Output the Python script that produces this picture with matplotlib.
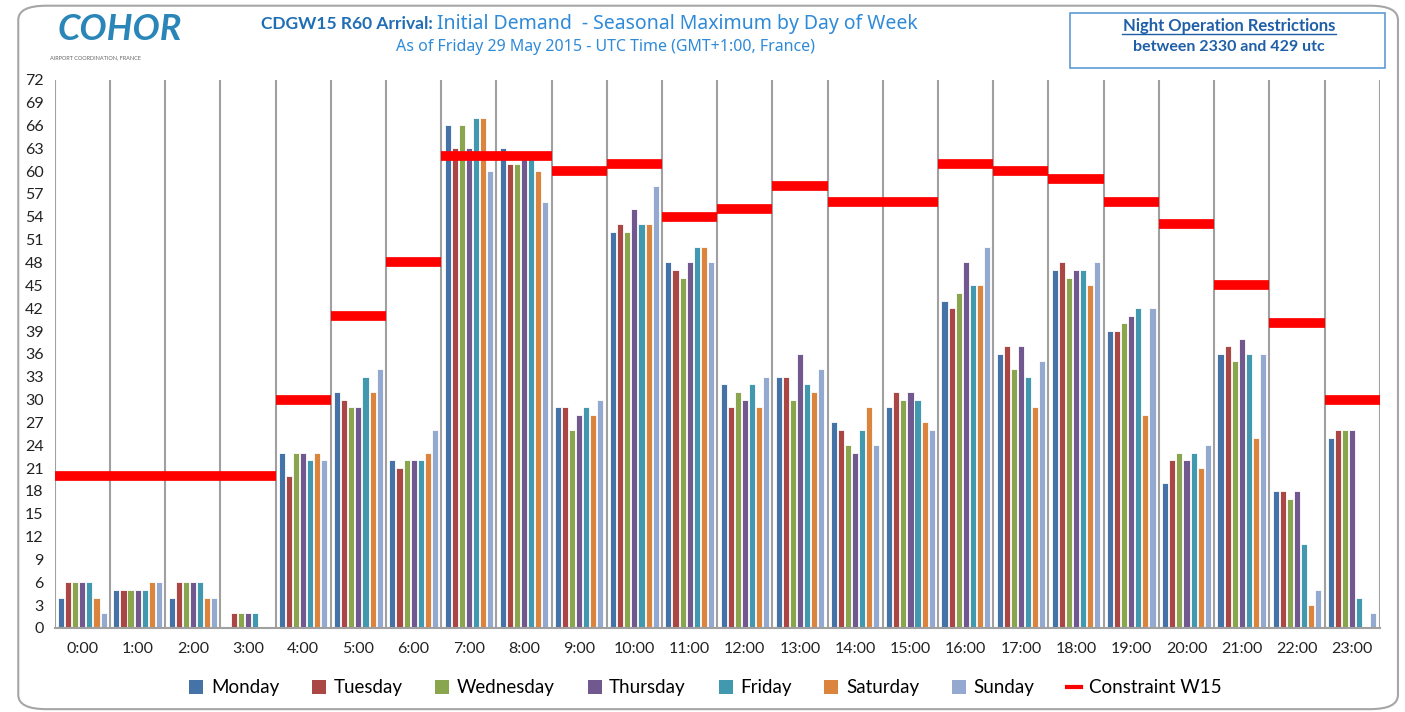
import matplotlib
matplotlib.use("Agg")
import matplotlib.pyplot as plt
from matplotlib.patches import FancyBboxPatch, Patch, Rectangle
from matplotlib.lines import Line2D
import numpy as np

plt.rcParams['font.family'] = ['Lato', 'DejaVu Sans']

hours = ["%d:00" % h for h in range(24)]
days = ["Monday", "Tuesday", "Wednesday", "Thursday", "Friday", "Saturday", "Sunday"]
day_colors = ["#4572A7", "#AA4643", "#89A54E", "#71588F", "#4198AF", "#DB843D", "#93A9CF"]

monday    = [4, 5, 4, 0, 23, 31, 22, 66, 63, 29, 52, 48, 32, 33, 27, 29, 43, 36, 47, 39, 19, 36, 18, 25]
tuesday   = [6, 5, 6, 2, 20, 30, 21, 63, 61, 29, 53, 47, 29, 33, 26, 31, 42, 37, 48, 39, 22, 37, 18, 26]
wednesday = [6, 5, 6, 2, 23, 29, 22, 66, 61, 26, 52, 46, 31, 30, 24, 30, 44, 34, 46, 40, 23, 35, 17, 26]
thursday  = [6, 5, 6, 2, 23, 29, 22, 63, 62, 28, 55, 48, 30, 36, 23, 31, 48, 37, 47, 41, 22, 38, 18, 26]
friday    = [6, 5, 6, 2, 22, 33, 22, 67, 62, 29, 53, 50, 32, 32, 26, 30, 45, 33, 47, 42, 23, 36, 11, 4]
saturday  = [4, 6, 4, 0, 23, 31, 23, 67, 60, 28, 53, 50, 29, 31, 29, 27, 45, 29, 45, 28, 21, 25, 3, 0]
sunday    = [2, 6, 4, 0, 22, 34, 26, 60, 56, 30, 58, 48, 33, 34, 24, 26, 50, 35, 48, 42, 24, 36, 5, 2]
constraint = [20, 20, 20, 20, 30, 41, 48, 62, 62, 60, 61, 54, 55, 58, 56, 56, 61, 60, 59, 56, 53, 45, 40, 30]

series = [monday, tuesday, wednesday, thursday, friday, saturday, sunday]

fig = plt.figure(figsize=(14.05, 7.12), dpi=100)
ax = fig.add_axes([0.039, 0.118, 0.943, 0.770])

x = np.arange(len(hours))
slot = 0.128
for i, (vals, col) in enumerate(zip(series, day_colors)):
    ax.bar(x + (i - 3) * slot, vals, width=0.11, color=col,
           edgecolor="white", linewidth=0.6, zorder=2)

# constraint segments, one per hour
ax.hlines(constraint, x - 0.5, x + 0.5, colors="#FF0000", linewidth=7,
          zorder=3)

# vertical separators between hours
for b in np.arange(-0.5, 24, 1.0):
    ax.axvline(b, color="#A0A0A0", linewidth=1.5, zorder=1)

ax.set_xlim(-0.5, 23.5)
ax.set_ylim(0, 72)
ax.set_yticks(range(0, 73, 3))
ax.set_xticks(x)
ax.set_xticklabels(hours)
ax.tick_params(axis="both", length=0, labelsize=11.5, colors="#222222")
ax.tick_params(axis="x", pad=10)
ax.tick_params(axis="y", pad=8)
for s in ["top", "right", "left"]:
    ax.spines[s].set_visible(False)
ax.spines["bottom"].set_color("#A0A0A0")
ax.spines["bottom"].set_linewidth(1.5)

# legend
handles = [Patch(facecolor=c, edgecolor="none") for c in day_colors]
handles.append(Line2D([0], [0], color="#FF0000", linewidth=3))
fig.legend(handles, days + ["Constraint W15"], loc="center", ncol=8,
           bbox_to_anchor=(0.502, 0.034), frameon=False, fontsize=13.5,
           handlelength=0.75, handleheight=0.75, handletextpad=0.4,
           columnspacing=1.75)

# outer rounded frame
frame = FancyBboxPatch((0.013, 0.004), 0.982, 0.988,
                       boxstyle="round,pad=0,rounding_size=0.02",
                       transform=fig.transFigure, facecolor="none",
                       edgecolor="#A6A6A6", linewidth=1.5, zorder=0)
fig.patches.append(frame)

# titles
fig.text(433 / 1405, 1 - 24 / 712, "CDGW15 R60 Arrival:", ha="right", va="center",
         fontsize=12.5, fontweight="bold", color="#1F6EB5")
fig.text(437 / 1405, 1 - 24 / 712, "Initial Demand  - Seasonal Maximum by Day of Week",
         ha="left", va="center", fontsize=14, color="#2F8AD8",
         family=["Noto Sans", "DejaVu Sans"])
fig.text(606 / 1405, 1 - 47 / 712, "As of Friday 29 May 2015 - UTC Time (GMT+1:00, France)",
         ha="center", va="center", fontsize=11.5, color="#2F8AD8",
         family=["Noto Sans", "DejaVu Sans"])

# logo
fig.text(120 / 1405, 1 - 30 / 712, "COHOR", ha="center", va="center",
         fontsize=26, fontstyle="italic", fontweight="bold", color="#2A86B8")
fig.text(95 / 1405, 1 - 58 / 712, "AIRPORT COORDINATION, FRANCE", ha="center",
         va="center", fontsize=4, color="#666666")

# night restriction box
box = Rectangle((1070 / 1405, 1 - 68 / 712), 315 / 1405, 55 / 712,
                transform=fig.transFigure, facecolor="white",
                edgecolor="#5B9BD5", linewidth=1.2)
fig.patches.append(box)
fig.text(1229 / 1405, 1 - 26 / 712, "Night Operation Restrictions", ha="center",
         va="center", fontsize=12, fontweight="bold", color="#1F5FA8")
fig.lines.append(Line2D([1122 / 1405, 1336 / 1405], [1 - 34 / 712, 1 - 34 / 712],
                        transform=fig.transFigure, color="#1F5FA8", linewidth=1))
fig.text(1229 / 1405, 1 - 47 / 712, "between 2330 and 429 utc", ha="center",
         va="center", fontsize=11.5, fontweight="bold", color="#1F5FA8")

fig.savefig("out.png", dpi=100, facecolor="white")
